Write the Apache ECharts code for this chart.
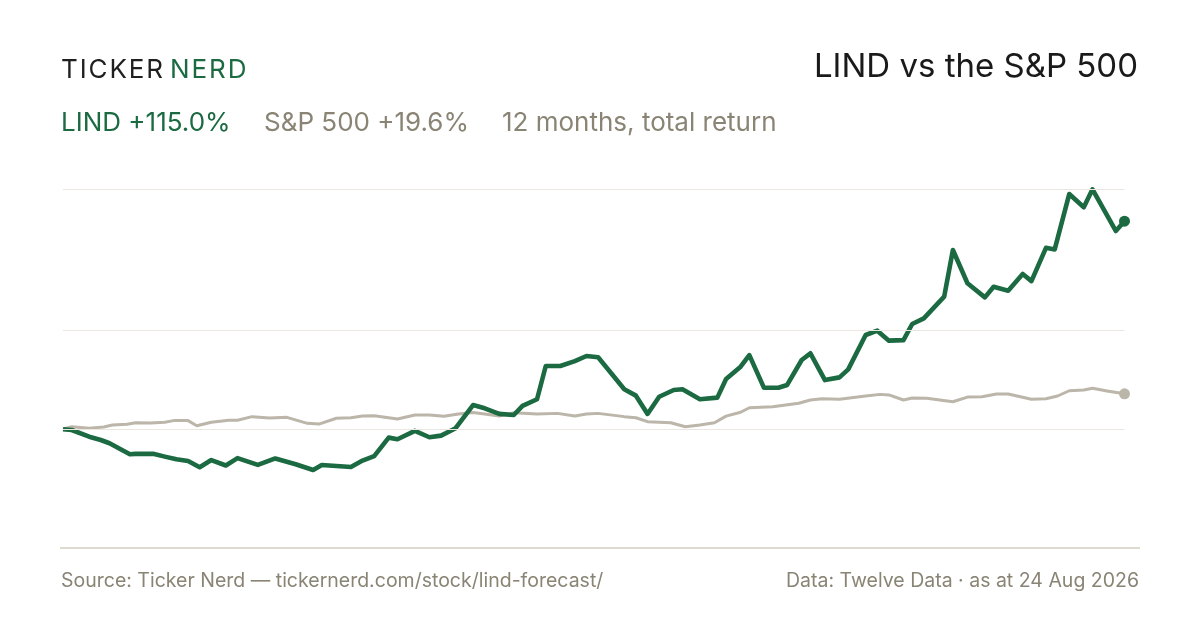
<!DOCTYPE html>
<html>
<head>
<meta charset="utf-8">
<script src="https://cdn.jsdelivr.net/npm/echarts@6/dist/echarts.min.js"></script>
<style>
  html, body { margin: 0; padding: 0; background: #ffffff; }
  #chart { width: 1200px; height: 630px; }
</style>
</head>
<body>
<div id="chart"></div>
<script>
// ---- data (days since 24 Aug 2025, total return in %) ----
const LIND_DAYS = [0,3,9,13,16,23,25,31,35,39,43,47,51,56,60,67,73,80,86,89,99,103,107,112,115,121,126,130,135,141,145,150,155,158,163,166,171,176,180,184,189,193,197,201,205,210,213,219,225,228,233,236,241,246,249,254,257,262,267,270,276,280,284,289,292,296,303,306,311,317,320,325,330,333,338,341,346,351,354,362,365];
const LIND_RET = [0,-0.4,-4.1,-5.9,-7.7,-13.8,-13.6,-13.5,-15.1,-16.6,-17.5,-21.0,-17.0,-20.0,-15.9,-19.7,-16.1,-19.3,-22.5,-19.7,-20.8,-17.3,-14.8,-4.6,-5.5,-0.9,-4.4,-3.5,0.6,13.4,11.6,8.5,7.9,12.9,16.6,35.0,35.0,37.7,40.5,39.8,30.0,22.1,18.6,8.5,18.0,21.7,22.1,16.6,17.5,27.8,34.6,41.0,23.0,23.0,24.5,38.3,42.0,27.2,28.7,33.1,52.1,54.5,49.0,49.3,58.2,61.3,73.3,99.1,80.7,72.9,78.8,76.6,85.8,81.9,100.3,99.4,130.0,122.7,132.6,109.6,115.0];
const SPX_DAYS = [0,3,9,14,17,22,25,30,35,38,43,46,51,57,60,65,71,77,84,88,94,99,103,107,115,121,126,131,136,141,145,150,155,163,170,176,180,184,193,197,201,209,214,219,224,228,233,236,244,253,257,261,267,276,281,284,289,292,297,306,311,316,321,325,333,338,342,346,351,354,359,365];
const SPX_RET = [0,1.4,0.6,1.3,2.4,2.8,3.6,3.5,3.9,4.8,4.8,2.0,3.9,5.0,5.0,7.0,6.2,6.6,3.3,2.9,6.1,6.4,7.3,7.5,5.7,7.9,7.9,7.2,8.5,9.3,8.5,7.3,9.2,8.5,8.8,7.3,8.5,8.8,7.0,6.4,4.2,3.6,1.4,2.4,3.6,7.3,9.4,11.9,12.5,14.4,16.2,16.9,16.6,18.4,19.3,19.0,16.2,17.3,17.1,15.2,17.8,18.0,19.5,19.5,16.6,16.9,18.4,21.3,21.7,22.7,21.2,19.6];
const GRID_LEVELS = [0, 55, 132.8];
const Y_MIN = -65.6, Y_MAX = 132.8;

// ---- text ----
const LOGO_A = 'TICKER', LOGO_B = 'NERD';
const TITLE = 'LIND vs the S&P 500';
const SUB_LIND = 'LIND +115.0%';
const SUB_SPX = 'S&P 500 +19.6%';
const SUB_NOTE = '12 months, total return';
const FOOT_L = 'Source: Ticker Nerd — tickernerd.com/stock/lind-forecast/';
const FOOT_R = 'Data: Twelve Data · as at 24 Aug 2026';

const GREEN = '#1b6a42', GREY = '#bcb5a9', TXT_GREY = '#8a8475';
const DAY = 86400000;
const START = Date.UTC(2025, 7, 24);
const END = START + 365 * DAY;
const pts = (days, vals) => days.map((d, i) => [START + d * DAY, vals[i]]);
const lindPts = pts(LIND_DAYS, LIND_RET);
const spxPts = pts(SPX_DAYS, SPX_RET);

const SANS = 'Inter, "Liberation Sans", Arial, sans-serif';
function txt(text, x, y, size, color, align) {
  return {
    type: 'text', x: x, y: y, silent: true,
    style: { text: text, font: size + 'px ' + SANS, fill: color,
      align: align || 'left', verticalAlign: 'middle',
      textAlign: align || 'left', textVerticalAlign: 'middle' }
  };
}
// letter-spaced word (logo)
const mctx = document.createElement('canvas').getContext('2d');
function spaced(word, x, y, size, color, gap) {
  mctx.font = size + 'px ' + SANS;
  const out = [];
  let cx = x;
  for (const ch of word) {
    out.push(txt(ch, cx, y, size, color));
    cx += mctx.measureText(ch).width + gap;
  }
  return out;
}

const chart = echarts.init(document.getElementById('chart'), null, { renderer: 'canvas' });
chart.setOption({
  animation: false,
  backgroundColor: '#ffffff',
  grid: { left: 63, right: 75.5, top: 189, bottom: 82, containLabel: false },
  xAxis: { type: 'time', min: START, max: END, show: false },
  yAxis: { type: 'value', min: Y_MIN, max: Y_MAX, show: false, splitLine: { show: false } },
  series: [
    { type: 'line', name: 'grid', data: [], z: 1, silent: true,
      markLine: { symbol: 'none', silent: true, label: { show: false },
        lineStyle: { color: '#ebe7e0', width: 1, type: 'solid' },
        data: GRID_LEVELS.map(v => ({ yAxis: v })) } },
    { type: 'line', name: 'S&P 500', data: spxPts, z: 2, clip: false,
      showSymbol: false, lineStyle: { color: GREY, width: 3, join: 'round' }, itemStyle: { color: GREY } },
    { type: 'line', name: 'LIND', data: lindPts, z: 3, clip: false,
      showSymbol: false, lineStyle: { color: GREEN, width: 4.6, join: 'round' }, itemStyle: { color: GREEN } },
    { type: 'scatter', data: [spxPts[spxPts.length - 1]], z: 4, symbolSize: 11,
      itemStyle: { color: GREY, opacity: 1 } },
    { type: 'scatter', data: [lindPts[lindPts.length - 1]], z: 5, symbolSize: 11,
      itemStyle: { color: GREEN, opacity: 1 } }
  ],
  graphic: [].concat(
    spaced(LOGO_A, 61, 70, 26, '#1f1f1f', 1.9),
    spaced(LOGO_B, 170, 70, 26, GREEN, 1.9),
    [
      txt(TITLE, 1138, 67, 33, '#1a1a1a', 'right'),
      txt(SUB_LIND, 61, 123, 26, GREEN),
      txt(SUB_SPX, 264, 123, 26, TXT_GREY),
      txt(SUB_NOTE, 502, 123, 26, TXT_GREY),
      txt(FOOT_L, 61, 581, 19.5, TXT_GREY),
      txt(FOOT_R, 1139, 581, 19.5, TXT_GREY, 'right'),
      { type: 'line', silent: true, shape: { x1: 60, y1: 548, x2: 1140, y2: 548 },
        style: { stroke: '#dedad0', lineWidth: 2 } }
    ]
  )
});
</script>
</body>
</html>
